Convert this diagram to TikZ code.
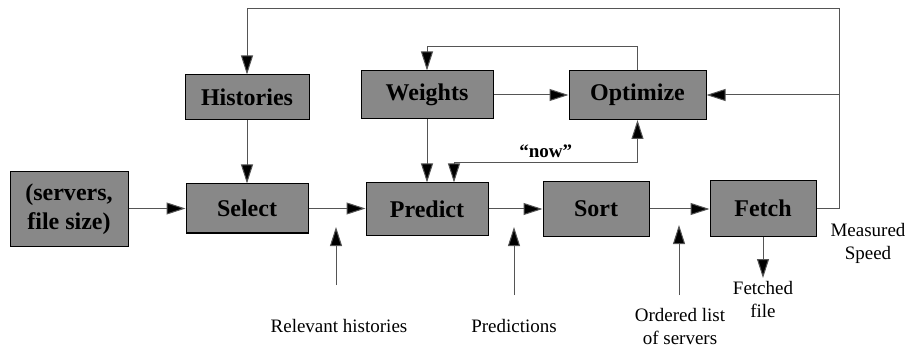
\documentclass[tikz,border=0pt]{standalone}
\usepackage{fontspec}
\setmainfont{Liberation Serif}
\usepackage{xcolor}
\usetikzlibrary{arrows.meta}

\definecolor{boxgray}{RGB}{136,136,136}
\definecolor{wiregray}{RGB}{85,85,85}

\tikzset{
  block/.style={draw=black, line width=1pt, fill=boxgray, align=center,
    font=\fontsize{24}{29}\selectfont\bfseries, inner sep=0pt},
  wire/.style={draw=wiregray, line width=1pt,
    -{Triangle[length=19pt,width=12pt,fill=black]}},
  twowire/.style={draw=wiregray, line width=1pt,
    {Triangle[length=19pt,width=12pt,fill=black]}-{Triangle[length=19pt,width=12pt,fill=black]}},
  note/.style={align=center, font=\fontsize{19}{23}\selectfont, inner sep=0pt}
}

\begin{document}
\begin{tikzpicture}[x=1pt,y=-1pt]
	\useasboundingbox (0,0) rectangle (909,347);
	
	% boxes
	\node[block, minimum width=118pt, minimum height=74pt] (srv) at (69,209) {(servers,\\file size)};
	\node[block, minimum width=122pt, minimum height=49pt] (sel) at (247,208.5) {Select};
	\node[block, minimum width=124pt, minimum height=45pt] (hist) at (247,97.5) {Histories};
	\node[block, minimum width=132pt, minimum height=48pt] (wts) at (427,95) {Weights};
	\node[block, minimum width=137pt, minimum height=49pt] (opt) at (637.5,95) {Optimize};
	\node[block, minimum width=122pt, minimum height=52pt] (pred) at (427,209) {Predict};
	\node[block, minimum width=106pt, minimum height=54pt] (sort) at (596,209) {Sort};
	\node[block, minimum width=106pt, minimum height=55pt] (fetch) at (763,208.5) {Fetch};
	
	% main flow
	\draw[wire] (srv.east |- sel) -- (sel);
	\draw[wire] (sel.east) -- (pred.west |- sel);
	\draw[wire] (pred.east |- sort) -- (sort);
	\draw[wire] (sort.east) -- (fetch.west |- sort);
	\draw[wire] (hist) -- (sel);
	\draw[wire] (wts) -- (pred);
	\draw[wire] (wts) -- (opt);
	
	% feedback from fetch
	\coordinate (loopR) at (839,9);
	\coordinate (jct) at (loopR |- opt);
	\draw[wire] (fetch.east) -| (loopR) -| (hist.north);
	\draw[wire] (jct) -- (opt.east);
	
	% optimizer loops
	\draw[wire] (opt.north) -- ++(0,-23) -| (wts.north);
	\draw[twowire] ([xshift=27pt]pred.north) -- ++(0,-20)
		-| node[pos=0.25, above=4pt, note, font=\fontsize{19}{23}\selectfont\bfseries] (nowlbl) {``now''} (opt.south);
	
	% annotations
	\node[note] (relLbl) at (339,326) {Relevant histories};
	\coordinate (relFoot) at (336,285);
	\coordinate (relTip) at (336,227);
	\draw[wire] (relFoot) -- (relTip);
	
	\node[note] (predLbl) at (514,326) {Predictions};
	\coordinate (predFoot) at (514,295);
	\coordinate (predTip) at (514,227);
	\draw[wire] (predFoot) -- (predTip);
	
	\node[note] (ordLbl) at (680,326) {Ordered list\\of servers};
	\coordinate (ordFoot) at (679,295);
	\coordinate (ordTip) at (679,225);
	\draw[wire] (ordFoot) -- (ordTip);
	
	\node[note, anchor=north] (fileLbl) at (763,281) {Fetched\\file};
	\draw[wire] (fetch.south) -- ([yshift=3pt]fileLbl.north);
	
	\node[note] (speedLbl) at (868,243) {Measured\\Speed};
\end{tikzpicture}
\end{document}
